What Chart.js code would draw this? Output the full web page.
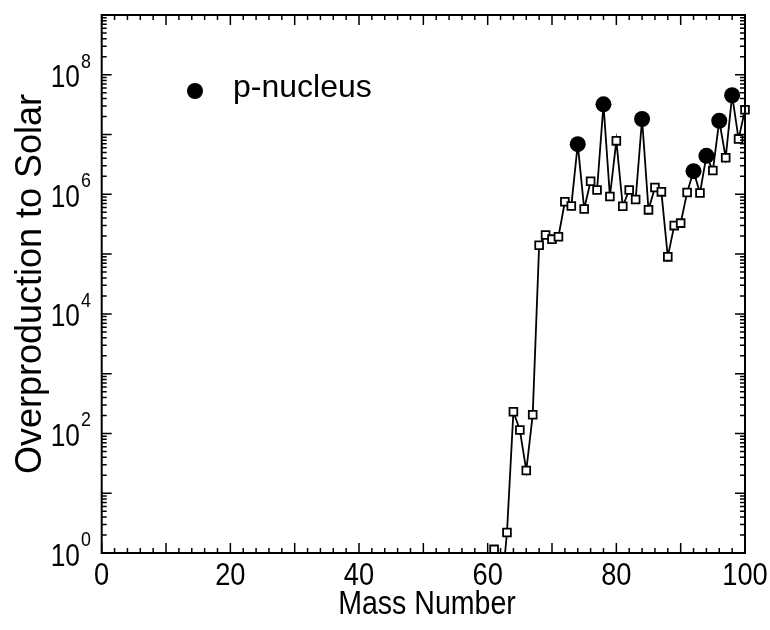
<!DOCTYPE html>
<html>
<head>
<meta charset="utf-8">
<script src="https://cdn.jsdelivr.net/npm/chart.js@4.4.1/dist/chart.umd.min.js"></script>
<style>
  html, body { margin: 0; padding: 0; background: #fff; }
  #wrap { width: 770px; height: 630px; }
</style>
</head>
<body>
<div id="wrap"><canvas id="chart" width="770" height="630"></canvas></div>
<script>
// mass numbers and their overproduction factors relative to solar
const massNumbers = [61, 62, 63, 64, 65, 66, 67, 68, 69, 70,
                     71, 72, 73, 74, 75, 76, 77, 78, 79, 80,
                     81, 82, 83, 84, 85, 86, 87, 88, 89, 90,
                     91, 92, 93, 94, 95, 96, 97, 98, 99, 100];
const overproduction = [1.15, 0.15, 2.2, 231, 114, 24, 205, 1.41e5, 2.09e5, 1.78e5,
                        1.95e5, 7.5e5, 6.4e5, 6.9e6, 5.7e5, 1.66e6, 1.18e6, 3.2e7, 9.2e5, 7.85e6,
                        6.3e5, 1.18e6, 8.2e5, 1.82e7, 5.5e5, 1.3e6, 1.1e6, 9.0e4, 3.0e5, 3.3e5,
                        1.07e6, 2.44e6, 1.05e6, 4.4e6, 2.5e6, 1.7e7, 4.1e6, 4.55e7, 8.4e6, 2.6e7];
const pNuclei = [74, 78, 84, 92, 94, 96, 98];

const xTickLabels = [0, 20, 40, 60, 80, 100];
const yTickExponents = [0, 2, 4, 6, 8];

const FONT = "'Liberation Sans', Arial, Helvetica, sans-serif";

const allPoints = massNumbers.map((a, i) => ({ x: a, y: overproduction[i] }));
const pPoints = allPoints.filter(p => pNuclei.includes(p.x));

// text squeezed horizontally, the plot font is narrower than Arial
function squeezedText(ctx, text, x, y, size, sx, align, baseline) {
    ctx.save();
    ctx.translate(x, y);
    ctx.scale(sx, 1);
    ctx.font = size + 'px ' + FONT;
    ctx.textAlign = align;
    ctx.textBaseline = baseline;
    ctx.fillText(text, 0, 0);
    ctx.restore();
}

// frame, inward ticks, labels, titles and the legend entry
const framePlugin = {
    id: 'frame',
    afterDraw(chart) {
        const { ctx, chartArea: a, scales: { x, y } } = chart;
        ctx.save();
        ctx.strokeStyle = '#000';
        ctx.lineWidth = 1.5;
        ctx.beginPath();
        for (let v = 0; v <= 100; v += 2) {
            const px = x.getPixelForValue(v);
            const len = v % 10 === 0 ? 10 : 5;
            ctx.moveTo(px, a.bottom); ctx.lineTo(px, a.bottom - len);
            ctx.moveTo(px, a.top); ctx.lineTo(px, a.top + len);
        }
        for (let d = 0; d < 9; d++) {
            for (let k = 1; k <= 9; k++) {
                const py = y.getPixelForValue(k * Math.pow(10, d));
                const len = k === 1 ? 10 : 5;
                ctx.moveTo(a.left, py); ctx.lineTo(a.left + len, py);
                ctx.moveTo(a.right, py); ctx.lineTo(a.right - len, py);
            }
        }
        ctx.stroke();

        ctx.lineWidth = 2;
        ctx.strokeRect(a.left, a.top, a.right - a.left, a.bottom - a.top);

        ctx.fillStyle = '#000';
        xTickLabels.forEach(v => {
            squeezedText(ctx, String(v), x.getPixelForValue(v), a.bottom + 23, 31, 0.88, 'center', 'middle');
        });

        yTickExponents.forEach(e => {
            const py = y.getPixelForValue(Math.pow(10, e));
            squeezedText(ctx, '10', 80, py + 4, 31, 0.85, 'right', 'middle');
            squeezedText(ctx, String(e), 81, py - 13, 21, 0.85, 'left', 'middle');
        });

        // axis titles
        squeezedText(ctx, 'Mass Number', 427, 614, 34, 0.84, 'center', 'alphabetic');
        ctx.save();
        ctx.translate(31, (a.top + a.bottom) / 2);
        ctx.rotate(-Math.PI / 2);
        squeezedText(ctx, 'Overproduction to Solar', 0, 0, 36, 1, 'center', 'middle');
        ctx.restore();

        // legend entry for the p-nuclei
        const ds = chart.data.datasets[0];
        ctx.beginPath();
        ctx.arc(195, 91, ds.pointRadius, 0, Math.PI * 2);
        ctx.fill();
        squeezedText(ctx, ds.label, 233, 97, 32, 1, 'left', 'alphabetic');
        ctx.restore();
    }
};

new Chart(document.getElementById('chart'), {
    type: 'line',
    data: {
        datasets: [{
            label: 'p-nucleus',
            data: pPoints,
            showLine: false,
            pointStyle: 'circle',
            pointRadius: 8,
            pointBackgroundColor: '#000',
            pointBorderColor: '#000',
            pointBorderWidth: 0,
            clip: { left: 0, top: 0, right: 10, bottom: 0 }
        }, {
            label: 'all',
            data: allPoints,
            borderColor: '#000',
            borderWidth: 1.8,
            tension: 0,
            pointStyle: 'rect',
            pointRadius: 5.5,
            pointBackgroundColor: '#fff',
            pointBorderColor: '#000',
            pointBorderWidth: 1.8,
            clip: { left: 0, top: 0, right: 8, bottom: 0 }
        }]
    },
    options: {
        responsive: false,
        animation: false,
        layout: { padding: { left: 0, top: 15, right: 25, bottom: 0 } },
        plugins: { legend: { display: false }, tooltip: { enabled: false } },
        scales: {
            x: {
                type: 'linear',
                min: 0,
                max: 100,
                grid: { display: false },
                border: { display: false },
                ticks: { display: false },
                afterFit: s => { s.height = 77; }
            },
            y: {
                type: 'logarithmic',
                min: 1,
                max: 1e9,
                grid: { display: false },
                border: { display: false },
                ticks: { display: false },
                afterFit: s => { s.width = 101.7; }
            }
        }
    },
    plugins: [framePlugin]
});
</script>
</body>
</html>
